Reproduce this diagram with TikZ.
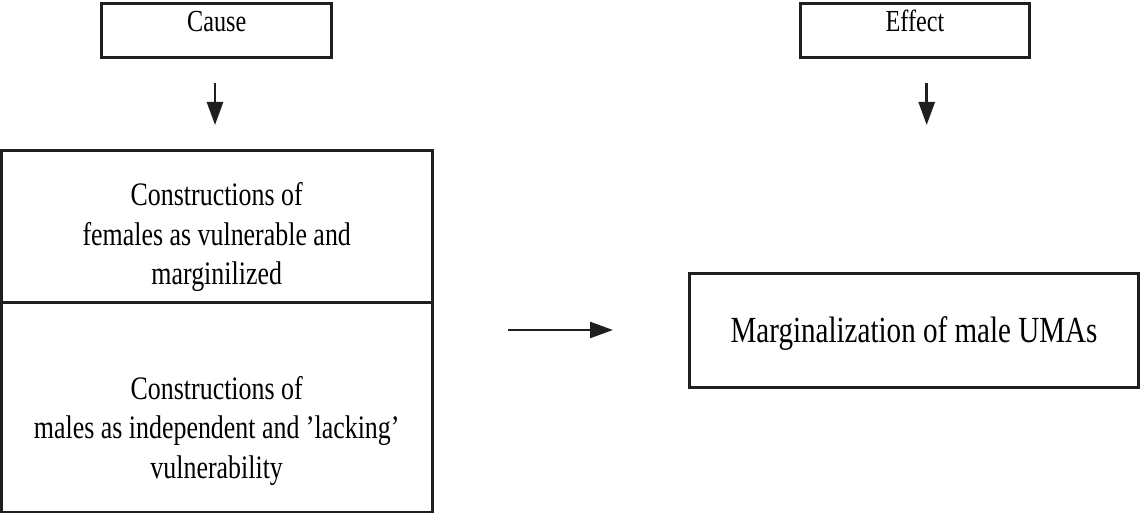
\documentclass[tikz,border=0pt]{standalone}
\usepackage{fontspec}
\setmainfont{Liberation Serif}[FakeStretch=0.79]
\usetikzlibrary{arrows.meta}
\tikzset{
  boxframe/.style={draw=black!88, line width=1.5pt, inner sep=0pt, outer sep=0pt},
  arr/.style={draw=black!88, line width=1.3pt, -{Triangle[length=11.5pt,width=8pt]}},
  headtext/.style={font=\fontsize{15.3}{18}\selectfont, anchor=base, inner sep=0pt},
  bodytext/.style={font=\fontsize{16.4}{19.75}\selectfont, align=center, anchor=base, inner sep=0pt},
  righttext/.style={font=\fontsize{18.4}{22}\selectfont, anchor=base, inner sep=0pt}
}
\begin{document}
\begin{tikzpicture}[x=0.5pt,y=-0.5pt]
\useasboundingbox (0,0) rectangle (1140,513);
% header boxes
\node[boxframe, minimum width=230.5*0.5pt, minimum height=53.7*0.5pt, anchor=north west] (causebox) at (101.3,4) {};
\node[boxframe, minimum width=229.3*0.5pt, minimum height=53.7*0.5pt, anchor=north west] (effectbox) at (800,4) {};
\node[headtext] (causetxt) at (216.7,31.7) {Cause};
\node[headtext] (effecttxt) at (915,31.7) {Effect};
% left stacked boxes
\node[boxframe, minimum width=430.7*0.5pt, minimum height=151.5*0.5pt, anchor=north west] (femalebox) at (1.3,150.5) {};
\node[boxframe, minimum width=430.7*0.5pt, minimum height=210*0.5pt, anchor=north west] (malebox) at (1.3,302) {};
\node[bodytext] (femaletxt) at (216.7,285) {Constructions of\\females as vulnerable and\\marginilized};
\node[bodytext] (maletxt) at (216.7,478) {Constructions of\\males as independent and 'lacking'\\vulnerability};
% right box
\node[boxframe, minimum width=449*0.5pt, minimum height=114.5*0.5pt, anchor=north west] (resultbox) at (689.5,273.2) {};
\node[righttext] (resulttxt) at (914,343) {Marginalization of male UMAs};
% arrows
\coordinate (ca1) at (215,83);
\coordinate (ca2) at (215,125);
\coordinate (ea1) at (926.7,83);
\coordinate (ea2) at (926.7,125);
\coordinate (ha1) at (508,330);
\coordinate (ha2) at (613,330);
\draw[arr] (ca1) -- (ca2);
\draw[arr] (ea1) -- (ea2);
\draw[arr] (ha1) -- (ha2);
\end{tikzpicture}
\end{document}
